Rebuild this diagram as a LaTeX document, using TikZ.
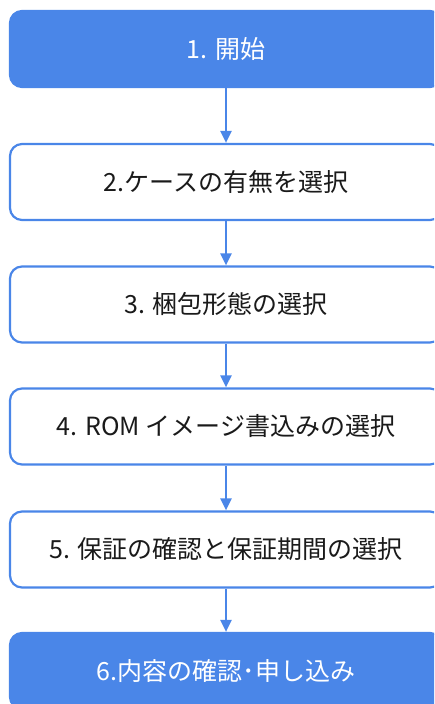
\documentclass[tikz,border=0pt]{standalone}
\usepackage{fontspec}
\setmainfont{Noto Sans CJK JP}
\usetikzlibrary{arrows.meta}
\definecolor{gblue}{HTML}{4A86E8}
\definecolor{gtext}{HTML}{1A1A1A}
\tikzset{
  stepbox/.style={draw=gblue, line width=2.2pt, rounded corners=12pt, minimum width=432pt, minimum height=76pt, fill=white, text=gtext, font=\fontsize{25}{28}\selectfont, inner sep=0pt},
  endbox/.style={stepbox, fill=gblue, text=white},
  flow/.style={draw=gblue, line width=2.2pt, -{Triangle[length=12pt,width=11pt]}}
}
\begin{document}
\begin{tikzpicture}[x=1pt,y=-1pt]
\useasboundingbox (0,0) rectangle (434,704);
\clip (0,0) rectangle (434,704);
\node[endbox] (n1) at (226,49) {1. 開始};
\node[stepbox] (n2) at (226,182) {2.ケースの有無を選択};
\node[stepbox] (n3) at (226,304.5) {3. 梱包形態の選択};
\node[stepbox] (n4) at (226,426.5) {4. ROM イメージ書込みの選択};
\node[stepbox] (n5) at (226,549.5) {5. 保証の確認と保証期間の選択};
\node[endbox] (n6) at (226,671) {6.内容の確認･申し込み};
\draw[flow] (n1) -- (n2);
\draw[flow] (n2) -- (n3);
\draw[flow] (n3) -- (n4);
\draw[flow] (n4) -- (n5);
\draw[flow] (n5) -- (n6);
\end{tikzpicture}
\end{document}
